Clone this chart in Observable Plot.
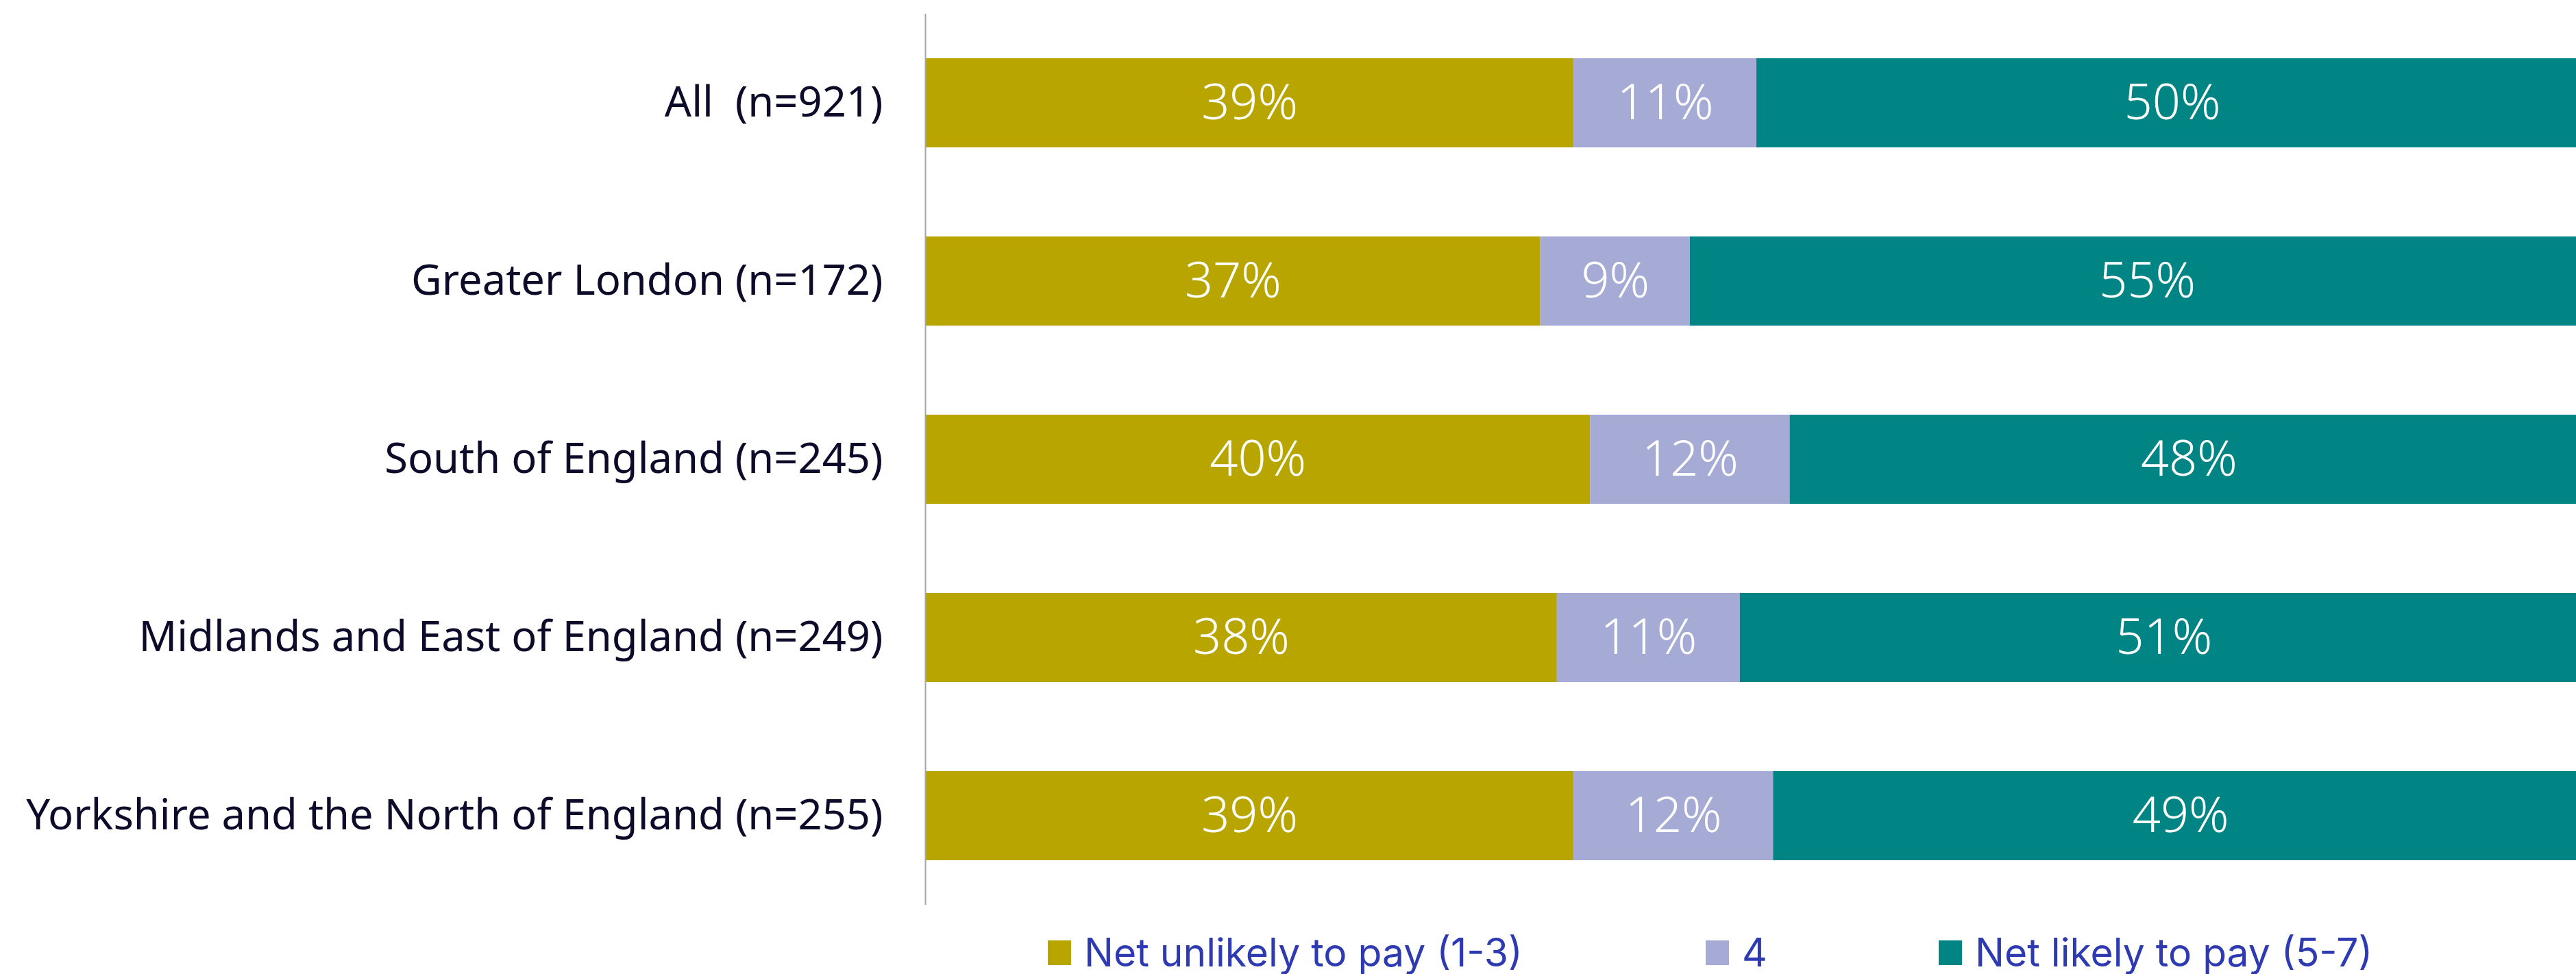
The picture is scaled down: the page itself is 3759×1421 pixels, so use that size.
<!DOCTYPE html>
<html>
<head>
<meta charset="utf-8">
<script src="https://cdn.jsdelivr.net/npm/d3@7"></script>
<script src="https://cdn.jsdelivr.net/npm/@observablehq/plot@0.6"></script>
<style>
  html, body { margin: 0; padding: 0; background: #ffffff; overflow: hidden; }
  body { width: 3759px; height: 1421px; position: relative; font-family: Inter, "Noto Sans", sans-serif; }
  #chart svg text { white-space: pre; }
  .legend { position: absolute; top: 1355px; left: 0; width: 3759px; height: 69px; }
  .item { position: absolute; top: 0; display: flex; align-items: center; height: 69px; }
  .sw { width: 34px; height: 36px; margin-right: 19px; }
  .lab { font-size: 57px; color: #2E3AB2; white-space: nowrap; line-height: 1; }
</style>
</head>
<body>
<div id="chart"></div>
<div class="legend" id="legend"></div>
<script>
const categories = [
  "All  (n=921)",
  "Greater London (n=172)",
  "South of England (n=245)",
  "Midlands and East of England (n=249)",
  "Yorkshire and the North of England (n=255)"
];
const seriesNames = ["Net unlikely to pay (1-3)", "4", "Net likely to pay (5-7)"];
const unlikely = [39, 37, 40, 38, 39];
const neutral = [11, 9, 12, 11, 12];
const likely = [50, 55, 48, 51, 49];
const seriesColors = ["#B9A500", "#A6ABD6", "#008584"];

const seriesValues = [unlikely, neutral, likely];
const rows = [];
categories.forEach((c, i) => {
  seriesNames.forEach((s, j) => {
    rows.push({cat: c, group: s, value: seriesValues[j][i]});
  });
});

const chart = Plot.plot({
  width: 3759,
  height: 1330,
  marginTop: 20,
  marginBottom: 10,
  marginLeft: 1350,
  marginRight: 0,
  style: {background: "#ffffff", overflow: "hidden"},
  x: {domain: [0, 100], range: [1350, 3776], axis: null},
  y: {domain: categories, range: [20, 1320], paddingInner: 0.5, paddingOuter: 0.25, label: null},
  color: {domain: seriesNames, range: seriesColors},
  marks: [
    Plot.barX(rows, Plot.stackX({x: "value", y: "cat", fill: "group", order: null})),
    Plot.text(rows, Plot.stackX({
      x: "value", y: "cat", z: "group", order: null,
      text: d => d.value + "%",
      fill: "#ffffff", fontSize: 72, fontWeight: 300, textAnchor: "middle"
    })),
    Plot.ruleX([0], {stroke: "#A6A6A6", strokeWidth: 2}),
    Plot.axisY({tickSize: 0, tickPadding: 62, fontSize: 61.5, fill: "#0C0C2A", label: null})
  ]
});
document.getElementById("chart").appendChild(chart);

const legendLeft = [1529, 2489, 2829];
const legend = document.getElementById("legend");
seriesNames.forEach((s, j) => {
  const item = document.createElement("div");
  item.className = "item";
  item.style.left = legendLeft[j] + "px";
  const sw = document.createElement("div");
  sw.className = "sw";
  sw.style.background = seriesColors[j];
  const lab = document.createElement("div");
  lab.className = "lab";
  lab.textContent = s;
  item.appendChild(sw);
  item.appendChild(lab);
  legend.appendChild(item);
});
</script>
</body>
</html>
